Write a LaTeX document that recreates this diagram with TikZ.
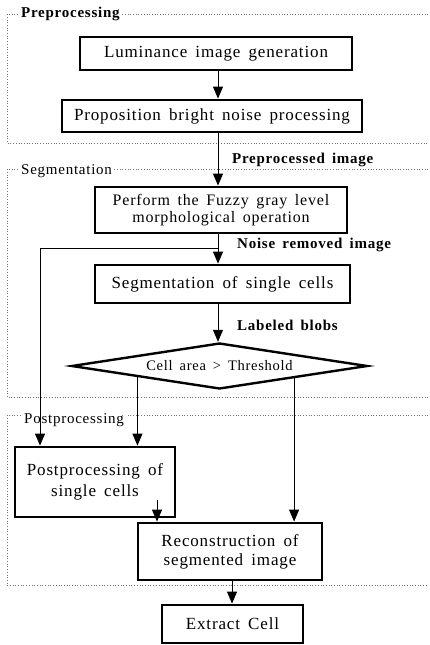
\documentclass[tikz,border=0pt]{standalone}
\usepackage{fontspec}
\setmainfont{Liberation Serif}[LetterSpace=5, WordSpace=1.6]
\usetikzlibrary{arrows.meta,shapes.geometric,calc}
\begin{document}
\begin{tikzpicture}[x=1pt,y=-1pt,
  stepbox/.style={draw, line width=2.8pt, inner sep=0pt, align=center, font=\fontsize{17}{19}\selectfont},
  smallbox/.style={stepbox, font=\fontsize{16}{17}\selectfont},
  decision/.style={draw, diamond, aspect=6.4, line width=2.4pt, inner sep=0pt, font=\fontsize{14.5}{16}\selectfont},
  arr/.style={-{Triangle[length=12pt,width=10pt]}, line width=1pt},
  line/.style={line width=1pt},
  sect/.style={draw=black!55, dotted, line width=0.7pt},
  seclabel/.style={fill=white, inner sep=2pt, anchor=west, font=\fontsize{15}{16}\selectfont},
  flowlabel/.style={anchor=west, inner sep=0pt, font=\bfseries\fontsize{15}{16}\selectfont}]
\useasboundingbox (0,0) rectangle (430,645);

% section frames
\draw[sect] (428,14) -- (7,14) -- (7,143) -- (428,143);
\node[seclabel, font=\bfseries\fontsize{15}{16}\selectfont] (secpre) at (19,14) {Preprocessing};
\draw[sect] (428,169) -- (7,169) -- (7,397) -- (428,397);
\node[seclabel] (secseg) at (19,171) {Segmentation};
\draw[sect] (428,415) -- (7,415) -- (7,585) -- (428,585);
\node[seclabel] (secpost) at (22,420) {Postprocessing};

% nodes
\node[stepbox, minimum width=272, minimum height=33] (b1) at (216,53.5) {Luminance image generation};
\node[stepbox, minimum width=300, minimum height=32] (b2) at (212,116) {Proposition bright noise processing};
\node[smallbox, minimum width=252, minimum height=46] (b3) at (221,210) {Perform the Fuzzy gray level\\morphological operation};
\node[stepbox, minimum width=255, minimum height=38] (b4) at (222.5,284) {Segmentation of single cells};
\node[decision, minimum width=296, minimum height=46] (d) at (219.5,366) {Cell area > Threshold};
\node[stepbox, minimum width=160, minimum height=70, font=\fontsize{17}{21}\selectfont] (b5) at (95,482) {Postprocessing of\\single cells};
\node[stepbox, minimum width=184, minimum height=57] (b6) at (230,551.5) {Reconstruction of\\segmented image};
\node[stepbox, minimum width=141, minimum height=38] (b7) at (232.5,624) {Extract Cell};

% flow labels
\node[flowlabel] (l1) at (232,160) {Preprocessed image};
\node[flowlabel] (l2) at (237,245) {Noise removed image};
\node[flowlabel] (l3) at (237,325) {Labeled blobs};

% connectors
\draw[arr] (b1.south -| 218,0) -- (b2.north -| 218,0);
\draw[arr] (b2.south -| 218,0) -- (b3.north -| 218,0);
\draw[arr] (b3.south -| 218,0) -- (b4.north -| 218,0);
\coordinate (br) at (218,248);
\draw[line] (br) -- (40,248);
\draw[arr] (40,248) -- (b5.north -| 40,0);
\draw[arr] (b4.south -| 218,0) -- (d.north -| 218,0);
\coordinate (dl) at ($(d.west)!0.45!(d.south)$);
\coordinate (dr) at ($(d.south)!0.5!(d.east)$);
\draw[arr] (dl) -- (dl |- b5.north);
\draw[arr] (dr) -- (dr |- b6.north);
\coordinate (p5) at (157,500);
\draw[arr] (p5) -- (p5 |- b6.north);
\draw[arr] (b6.south -| 232,0) -- (b7.north -| 232,0);
\end{tikzpicture}
\end{document}
